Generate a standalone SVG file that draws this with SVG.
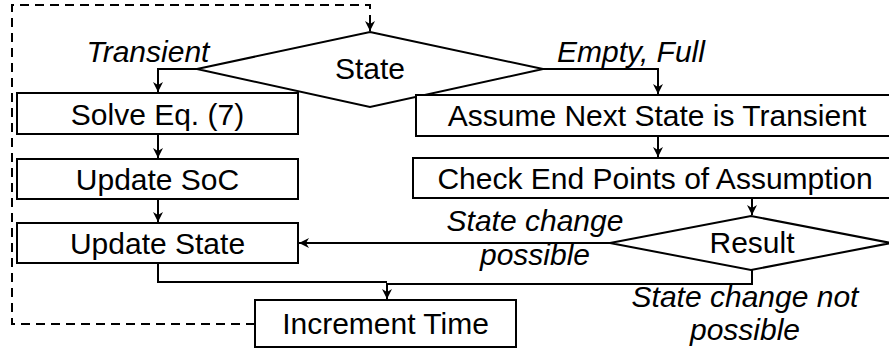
<svg xmlns="http://www.w3.org/2000/svg" width="889" height="355" viewBox="0 0 889 355">
  <style>
    .box { fill: #fff; stroke: #000; stroke-width: 2; }
    .lbl { font-family: "Liberation Sans", Arial, sans-serif; font-size: 30px; fill: #000; text-anchor: middle; }
    .it { font-style: italic; }
    .ln { fill: none; stroke: #000; stroke-width: 2; }
    .dash { fill: none; stroke: #000; stroke-width: 2; stroke-dasharray: 9 6; }
  </style>
  <defs>
    <marker id="arr" markerUnits="userSpaceOnUse" markerWidth="14" markerHeight="12" viewBox="-12 -6 14 12" refX="0" refY="0" orient="auto">
      <path d="M-10,-5 L0,0 L-10,5 L-7,0 Z" fill="#000"/>
    </marker>
  </defs>

  <rect width="889" height="355" fill="#fff"/>

  <!-- connectors -->
  <g id="connectors">
    <!-- loop back from Increment Time to State -->
    <path class="dash" d="M255,324 H12 V5 H370 V18"/>
    <path class="ln" d="M370,16 V31" marker-end="url(#arr)"/>
    <!-- Transient branch -->
    <path class="ln" d="M197,69 H158 V92" marker-end="url(#arr)"/>
    <!-- Empty, Full branch -->
    <path class="ln" d="M543,69 H658 V94" marker-end="url(#arr)"/>
    <path class="ln" d="M158,134 V158" marker-end="url(#arr)"/>
    <path class="ln" d="M158,199 V222" marker-end="url(#arr)"/>
    <path class="ln" d="M658,136 V157" marker-end="url(#arr)"/>
    <path class="ln" d="M752,198 V215" marker-end="url(#arr)"/>
    <!-- state change possible -->
    <path class="ln" d="M610,243 H299" marker-end="url(#arr)"/>
    <!-- merge into Increment Time -->
    <path class="ln" d="M158,263 V282 H387"/>
    <path class="ln" d="M752,270 V284 H387 V299" marker-end="url(#arr)"/>
  </g>

  <g id="state">
    <polygon class="box" points="370,32 543,69 370,107 197,69"/>
    <text class="lbl" x="370" y="79">State</text>
  </g>
  <g id="solve">
    <rect class="box" x="17" y="93" width="281" height="41"/>
    <text class="lbl" x="157.5" y="125">Solve Eq. (7)</text>
  </g>
  <g id="update-soc">
    <rect class="box" x="17" y="159" width="281" height="40"/>
    <text class="lbl" x="157.5" y="190">Update SoC</text>
  </g>
  <g id="update-state">
    <rect class="box" x="17" y="223" width="281" height="40"/>
    <text class="lbl" x="157.5" y="254">Update State</text>
  </g>
  <g id="assume">
    <rect class="box" x="416" y="95" width="484" height="41"/>
    <text class="lbl" x="657" y="126">Assume Next State is Transient</text>
  </g>
  <g id="check">
    <rect class="box" x="413" y="158" width="490" height="40"/>
    <text class="lbl" x="655" y="189">Check End Points of Assumption</text>
  </g>
  <g id="result">
    <polygon class="box" points="751,216 891,243 751,270 610,243"/>
    <text class="lbl" x="752" y="253">Result</text>
  </g>
  <g id="increment">
    <rect class="box" x="255" y="300" width="261" height="47"/>
    <text class="lbl" x="385.5" y="334">Increment Time</text>
  </g>

  <!-- branch labels -->
  <g id="labels">
    <text class="lbl it" x="148" y="62">Transient</text>
    <text class="lbl it" x="631" y="62">Empty, Full</text>
    <text class="lbl it" x="535" y="231">State change</text>
    <text class="lbl it" x="535" y="265">possible</text>
    <text class="lbl it" x="745" y="307">State change not</text>
    <text class="lbl it" x="745" y="340">possible</text>
  </g>
</svg>
